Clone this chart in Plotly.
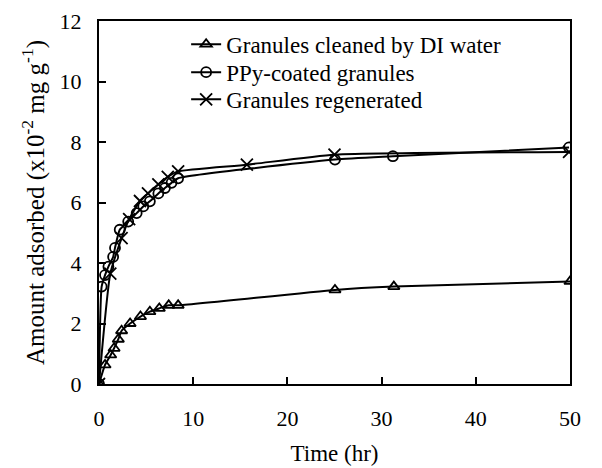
import plotly.graph_objects as go

# Series values (time positions, amount in x10^-2 mg/g)
t_di = [0, 0.64, 1.24, 1.6, 2.05, 2.4, 3.3, 4.4, 5.4, 6.4, 7.4, 8.4, 25.05, 31.3, 50.0]
y_di = [0, 0.63, 0.96, 1.18, 1.48, 1.76, 2.0, 2.23, 2.39, 2.5, 2.6, 2.6, 3.11, 3.22, 3.39]

t_ppy = [0, 0.28, 0.64, 1.0, 1.5, 1.7, 2.2, 3.1, 4.0, 4.7, 5.4, 6.3, 7.0, 7.7, 8.4, 25.05, 31.2, 49.9]
y_ppy = [0, 3.22, 3.6, 3.88, 4.2, 4.5, 5.1, 5.37, 5.65, 5.87, 6.04, 6.3, 6.48, 6.65, 6.8, 7.42, 7.53, 7.82]

t_reg = [0, 1.2, 2.4, 3.2, 4.35, 5.2, 6.3, 7.3, 8.4, 15.7, 25.0, 49.9]
y_reg = [0, 3.65, 4.82, 5.45, 6.05, 6.3, 6.6, 6.85, 7.03, 7.25, 7.58, 7.67]

names = ["Granules cleaned by DI water", "PPy-coated granules", "Granules regenerated"]
x_ticks = [0, 10, 20, 30, 40, 50]
y_ticks = [0, 2, 4, 6, 8, 10, 12]

FONT = "Liberation Serif, Times New Roman, serif"

fig = go.Figure()
series = [
    (t_di, y_di, names[0], "triangle-up-open", 10, "legend"),
    (t_ppy, y_ppy, names[1], "circle-open", 10, "legend2"),
    (t_reg, y_reg, names[2], "x-thin-open", 12, "legend3"),
]
for xs, ys, nm, sym, sz, lg in series:
    fig.add_trace(go.Scatter(
        x=xs, y=ys, name=nm, mode="lines+markers", legend=lg,
        line=dict(color="black", width=2, shape="spline", smoothing=0.5),
        marker=dict(symbol=sym, size=sz, color="black",
                    line=dict(color="black", width=1.8)),
    ))

leg_common = dict(x=0.185, xanchor="left", yanchor="middle",
                  bgcolor="rgba(0,0,0,0)", borderwidth=0,
                  font=dict(family=FONT, size=23, color="black"))

fig.update_layout(
    width=602, height=468,
    margin=dict(l=99, r=32, t=21, b=84),
    paper_bgcolor="white", plot_bgcolor="white",
    font=dict(family=FONT, size=22, color="black"),
    showlegend=True,
    legend=dict(y=0.936, **leg_common),
    legend2=dict(y=0.859, **leg_common),
    legend3=dict(y=0.784, **leg_common),
    xaxis=dict(
        range=[0, 50], tickvals=x_ticks, ticktext=[str(v) for v in x_ticks],
        ticks="inside", ticklen=7, tickwidth=2, tickcolor="black",
        showline=True, linecolor="black", linewidth=2, mirror=True,
        showgrid=False, zeroline=False, automargin=False,
        tickfont=dict(family=FONT, size=22),
        ticklabelstandoff=14,
        title=dict(text="Time (hr)", font=dict(family=FONT, size=23), standoff=14),
    ),
    yaxis=dict(
        range=[0, 12], tickvals=y_ticks, ticktext=[str(v) for v in y_ticks],
        ticks="inside", ticklen=7, tickwidth=2, tickcolor="black",
        showline=True, linecolor="black", linewidth=2, mirror=True,
        showgrid=False, zeroline=False, automargin=False,
        tickfont=dict(family=FONT, size=22),
        ticklabelstandoff=11,
        title=dict(text="Amount adsorbed (x10<sup>-2</sup> mg g<sup>-1</sup>)",
                   font=dict(family=FONT, size=25), standoff=8),
    ),
)

fig.write_html("out.html")
